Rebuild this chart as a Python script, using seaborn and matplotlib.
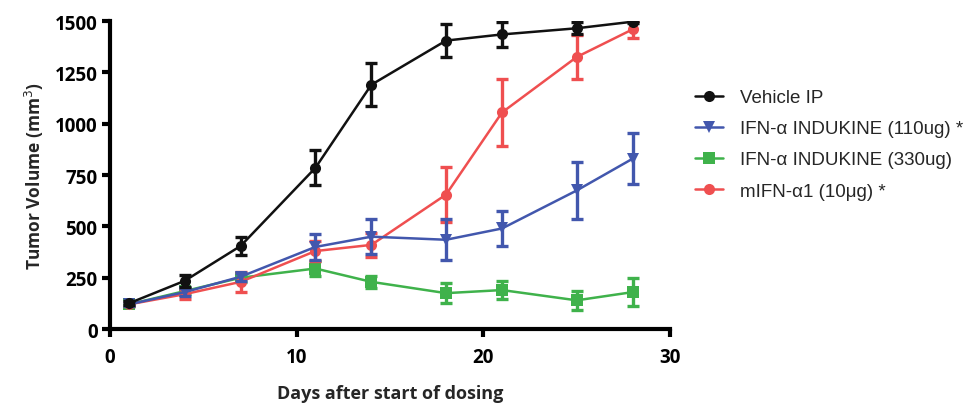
import matplotlib
matplotlib.use("Agg")
import matplotlib.pyplot as plt
import seaborn as sns
import pandas as pd
import numpy as np

# data
days = [1, 4, 7, 11, 14, 18, 21, 25, 28]

vehicle = [125, 235, 405, 785, 1190, 1405, 1435, 1465, 1497]
vehicle_err = [10, 28, 42, 85, 105, 80, 62, 30, 5]

ink110 = [120, 180, 255, 400, 450, 435, 490, 675, 830]
ink110_err = [10, 20, 20, 65, 85, 100, 85, 140, 125]

ink330 = [120, 185, 250, 295, 230, 175, 190, 140, 180]
ink330_err = [10, 15, 20, 35, 30, 50, 45, 45, 70]

mifn = [120, 170, 230, 380, 410, 655, 1055, 1325, 1460]
mifn_err = [10, 25, 50, 50, 60, 135, 165, 105, 40]

labels = ["Vehicle IP", "IFN-\u03b1 INDUKINE (110ug) *",
          "IFN-\u03b1 INDUKINE (330ug)", "mIFN-\u03b11 (10\u03bcg) *"]
colors = ["#111111", "#4257AD", "#3FB24B", "#EF4F50"]
markers = ["o", "v", "s", "o"]

series = [vehicle, ink110, ink330, mifn]
errors = [vehicle_err, ink110_err, ink330_err, mifn_err]

sns.set_theme(style="ticks")
plt.rcParams['font.family'] = ['Open Sans', 'DejaVu Sans']

fig = plt.figure(figsize=(9.78, 4.06), dpi=100)
ax = fig.add_axes([0.1125, 0.187, 0.5726, 0.7586])

# draw back to front so black is on top
order = [2, 3, 1, 0]
for i in order:
    df = pd.DataFrame({"day": days, "vol": series[i]})
    ax.errorbar(days, series[i], yerr=errors[i], fmt="none", ecolor=colors[i],
                elinewidth=2.4, capsize=4.5, capthick=2.4, zorder=2 + order.index(i))
    sns.lineplot(data=df, x="day", y="vol", ax=ax, color=colors[i], marker=markers[i],
                 markersize=8, markeredgewidth=0, linewidth=1.8, label=labels[i],
                 zorder=2 + order.index(i))

ax.set_xlim(0, 30)
ax.set_ylim(0, 1500)
ax.set_xticks([0, 10, 20, 30])
ax.set_yticks([0, 250, 500, 750, 1000, 1250, 1500])
for s in ["top", "right"]:
    ax.spines[s].set_visible(False)
for s in ["left", "bottom"]:
    ax.spines[s].set_linewidth(3)
    ax.spines[s].set_color("black")
ax.tick_params(width=3, length=6, labelsize=13.5, colors="black", pad=3)
for t in ax.get_xticklabels() + ax.get_yticklabels():
    t.set_fontweight("bold")
ax.tick_params(axis="x", pad=7)

ax.set_xlabel("Days after start of dosing", fontsize=13, fontweight="bold", labelpad=12)
ax.set_ylabel("Tumor Volume (mm$^3$)", fontsize=12.5, fontweight="bold", labelpad=6)

handles, labs = ax.get_legend_handles_labels()
idx = [labs.index(l) for l in labels]
ax.legend([handles[j] for j in idx], [labs[j] for j in idx], loc="center left",
          bbox_to_anchor=(1.015, 0.6), frameon=False,
          prop={"family": "Liberation Sans", "size": 13.5}, handlelength=1.5,
          handletextpad=0.9, labelspacing=0.75)

fig.savefig("out.png", dpi=100)
